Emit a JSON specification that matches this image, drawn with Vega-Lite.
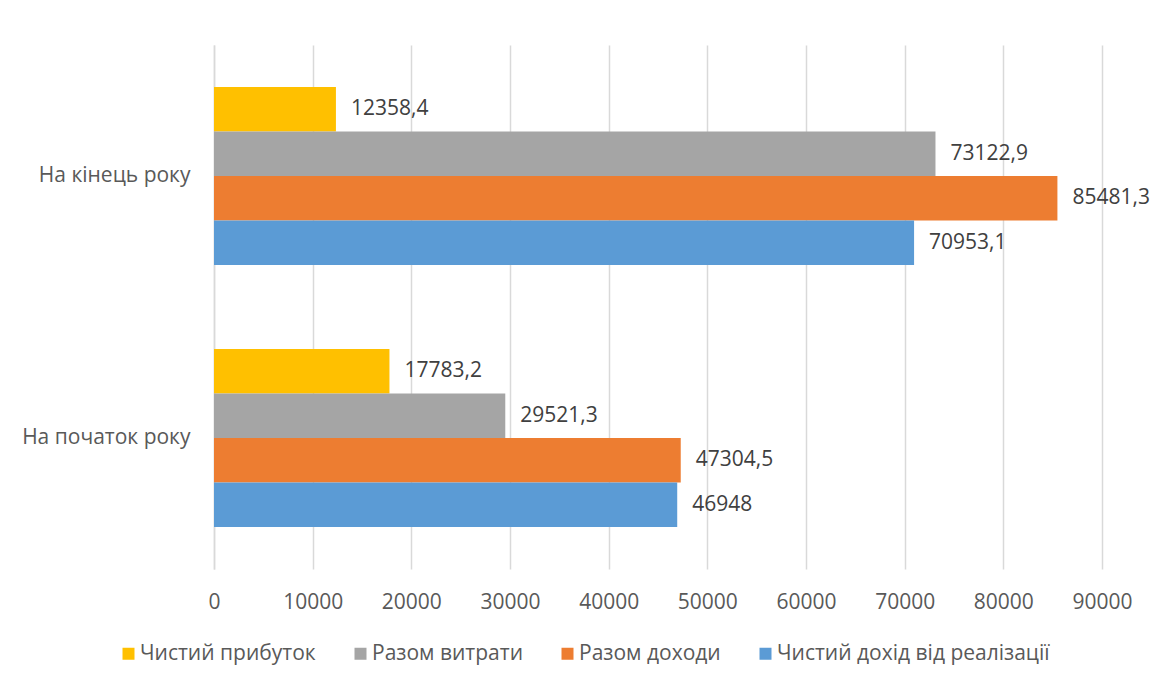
{
  "$schema": "https://vega.github.io/schema/vega-lite/v6.json",
  "width": 888,
  "height": 524,
  "autosize": {"type": "none"},
  "padding": {"left": 214, "top": 45, "right": 48, "bottom": 118},
  "background": "white",
  "config": {
    "view": {"stroke": null},
    "font": "Open Sans",
    "locale": {"number": {"decimal": ",", "thousands": "", "grouping": [3], "currency": ["", ""]}}
  },
  "data": {
    "values": [
      {"period": "На кінець року", "series": "Чистий прибуток", "value": 12358.4},
      {"period": "На кінець року", "series": "Разом витрати", "value": 73122.9},
      {"period": "На кінець року", "series": "Разом доходи", "value": 85481.3},
      {"period": "На кінець року", "series": "Чистий дохід від реалізації", "value": 70953.1},
      {"period": "На початок року", "series": "Чистий прибуток", "value": 17783.2},
      {"period": "На початок року", "series": "Разом витрати", "value": 29521.3},
      {"period": "На початок року", "series": "Разом доходи", "value": 47304.5},
      {"period": "На початок року", "series": "Чистий дохід від реалізації", "value": 46948}
    ]
  },
  "encoding": {
    "y": {
      "field": "period",
      "type": "nominal",
      "sort": ["На кінець року", "На початок року"],
      "scale": {"paddingInner": 0.32, "paddingOuter": 0.16},
      "axis": {
        "title": null,
        "labelFontSize": 21,
        "labelColor": "#595959",
        "labelPadding": 24,
        "labelLimit": 300,
        "ticks": false,
        "domain": true,
        "domainColor": "#D9D9D9",
        "domainWidth": 1.5,
        "grid": false
      }
    },
    "yOffset": {
      "field": "series",
      "type": "nominal",
      "sort": ["Чистий прибуток", "Разом витрати", "Разом доходи", "Чистий дохід від реалізації"],
      "scale": {"paddingInner": 0, "paddingOuter": 0}
    },
    "x": {
      "field": "value",
      "type": "quantitative",
      "scale": {"domain": [0, 90000], "nice": false},
      "axis": {
        "title": null,
        "format": "d",
        "values": [0, 10000, 20000, 30000, 40000, 50000, 60000, 70000, 80000, 90000],
        "grid": true,
        "gridColor": "#D9D9D9",
        "gridWidth": 1.5,
        "domain": false,
        "ticks": false,
        "labelFlush": false,
        "labelOverlap": false,
        "labelFontSize": 21,
        "labelColor": "#595959",
        "labelPadding": 22
      }
    }
  },
  "layer": [
    {
      "mark": {"type": "bar"},
      "encoding": {
        "color": {
          "field": "series",
          "type": "nominal",
          "scale": {
            "domain": ["Чистий прибуток", "Разом витрати", "Разом доходи", "Чистий дохід від реалізації"],
            "range": ["#FFC000", "#A5A5A5", "#ED7D31", "#5B9BD5"]
          },
          "legend": {
            "orient": "none",
            "legendX": -96,
            "legendY": 598,
            "direction": "horizontal",
            "title": null,
            "symbolType": "square",
            "symbolSize": 144,
            "symbolStrokeWidth": 0,
            "labelFontSize": 21,
            "labelColor": "#595959",
            "labelOffset": 1,
            "labelLimit": 500,
            "columnPadding": 34,
            "padding": 0
          }
        }
      }
    },
    {
      "mark": {"type": "text", "align": "left", "baseline": "middle", "dx": 15, "fontSize": 21, "color": "#404040"},
      "encoding": {
        "text": {"field": "value", "type": "quantitative", "format": "~f"}
      }
    }
  ]
}
